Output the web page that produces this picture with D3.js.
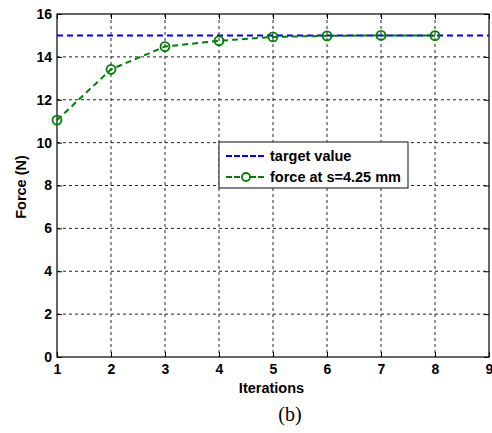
<!DOCTYPE html>
<html>
<head>
<meta charset="utf-8">
<script src="https://cdn.jsdelivr.net/npm/d3@7"></script>
<style>
  body { margin: 0; background: #fff; }
</style>
</head>
<body>
<div id="chart"></div>
<script>
const width = 492
const height = 433

// data
const iterations = [1, 2, 3, 4, 5, 6, 7, 8]
const force = [11.05, 13.42, 14.48, 14.75, 14.93, 14.98, 15.0, 14.99]
const target = 15
const xTicks = [1, 2, 3, 4, 5, 6, 7, 8, 9]
const yTicks = [0, 2, 4, 6, 8, 10, 12, 14, 16]
const legendLabels = ["target value", "force at s=4.25 mm"]

const m = { left: 57, right: 489, top: 14, bottom: 357 }
const sans = "'Liberation Sans', Arial, sans-serif"

const svg = d3.select("#chart")
  .append("svg")
  .attr("width", width)
  .attr("height", height)
  .style("font-family", sans)

const x = d3.scaleLinear().domain([1, 9]).range([m.left, m.right])
const y = d3.scaleLinear().domain([0, 16]).range([m.bottom, m.top])

// grid
svg.append("g")
  .selectAll("line")
  .data(xTicks.slice(1, -1))
  .join("line")
  .attr("x1", d => x(d)).attr("x2", d => x(d))
  .attr("y1", m.top).attr("y2", m.bottom)
  .attr("stroke", "#222").attr("stroke-width", 1)
  .attr("stroke-dasharray", "3,3")

svg.append("g")
  .selectAll("line")
  .data(yTicks.slice(1, -1))
  .join("line")
  .attr("x1", m.left).attr("x2", m.right)
  .attr("y1", d => y(d)).attr("y2", d => y(d))
  .attr("stroke", "#222").attr("stroke-width", 1)
  .attr("stroke-dasharray", "3,3")

// axes (ticks pointing inward)
const tickStyle = g => {
  g.select(".domain").remove()
  g.selectAll("text")
    .attr("font-family", sans)
    .attr("font-size", 14).attr("font-weight", "bold").attr("fill", "#000")
}

svg.append("g")
  .attr("transform", `translate(0,${m.bottom})`)
  .call(d3.axisBottom(x).tickValues(xTicks).tickFormat(d3.format("d")).tickSizeInner(-5).tickPadding(7))
  .call(tickStyle)

svg.append("g")
  .attr("transform", `translate(0,${m.top})`)
  .call(d3.axisTop(x).tickValues(xTicks).tickSizeInner(-5).tickFormat(""))
  .call(g => g.select(".domain").remove())

svg.append("g")
  .attr("transform", `translate(${m.left},0)`)
  .call(d3.axisLeft(y).tickValues(yTicks).tickSizeInner(-5).tickPadding(5))
  .call(tickStyle)

svg.append("g")
  .attr("transform", `translate(${m.right},0)`)
  .call(d3.axisRight(y).tickValues(yTicks).tickSizeInner(-5).tickFormat(""))
  .call(g => g.select(".domain").remove())

svg.append("rect")
  .attr("x", m.left).attr("y", m.top)
  .attr("width", m.right - m.left).attr("height", m.bottom - m.top)
  .attr("fill", "none").attr("stroke", "#000").attr("stroke-width", 1.2)

// target line
svg.append("line")
  .attr("x1", x(1)).attr("x2", x(9))
  .attr("y1", y(target)).attr("y2", y(target))
  .attr("stroke", "#0000ff").attr("stroke-width", 2)
  .attr("stroke-dasharray", "6,4")

// force line
const pts = iterations.map((it, i) => ({ it, f: force[i] }))
const lineFunc = d3.line().x(d => x(d.it)).y(d => y(d.f))

svg.append("path")
  .attr("d", lineFunc(pts))
  .attr("fill", "none")
  .attr("stroke", "#008000").attr("stroke-width", 2)
  .attr("stroke-dasharray", "6,4")

svg.selectAll("circle.pt")
  .data(pts)
  .join("circle")
  .attr("class", "pt")
  .attr("cx", d => x(d.it)).attr("cy", d => y(d.f))
  .attr("r", 4.5)
  .attr("fill", "none").attr("stroke", "#008000").attr("stroke-width", 1.8)

// legend
const lg = svg.append("g").attr("transform", "translate(219,142)")
lg.append("rect")
  .attr("width", 189).attr("height", 46)
  .attr("fill", "#fff").attr("stroke", "#333").attr("stroke-width", 1.2)

lg.append("line")
  .attr("x1", 7).attr("x2", 46).attr("y1", 14).attr("y2", 14)
  .attr("stroke", "#0000ff").attr("stroke-width", 2).attr("stroke-dasharray", "6,2")
lg.append("line")
  .attr("x1", 7).attr("x2", 46).attr("y1", 35).attr("y2", 35)
  .attr("stroke", "#008000").attr("stroke-width", 2).attr("stroke-dasharray", "6,2")
lg.append("circle")
  .attr("cx", 27).attr("cy", 35).attr("r", 4)
  .attr("fill", "#fff").attr("stroke", "#008000").attr("stroke-width", 1.8)

lg.selectAll("text")
  .data(legendLabels)
  .join("text")
  .attr("x", 51).attr("y", (d, i) => 19 + i * 21)
  .attr("font-size", 14.5).attr("font-weight", "bold")
  .text(d => d)

// axis titles
svg.append("text")
  .attr("x", 271.5).attr("y", 393)
  .attr("text-anchor", "middle")
  .attr("font-size", 14.5).attr("font-weight", "bold")
  .text("Iterations")

svg.append("text")
  .attr("transform", "translate(26,187) rotate(-90)")
  .attr("text-anchor", "middle")
  .attr("font-size", 14.5).attr("font-weight", "bold")
  .text("Force (N)")

svg.append("text")
  .attr("x", 290).attr("y", 421)
  .attr("text-anchor", "middle")
  .style("font-family", "'Liberation Serif', 'Times New Roman', serif")
  .attr("font-size", 20)
  .text("(b)")
</script>
</body>
</html>
